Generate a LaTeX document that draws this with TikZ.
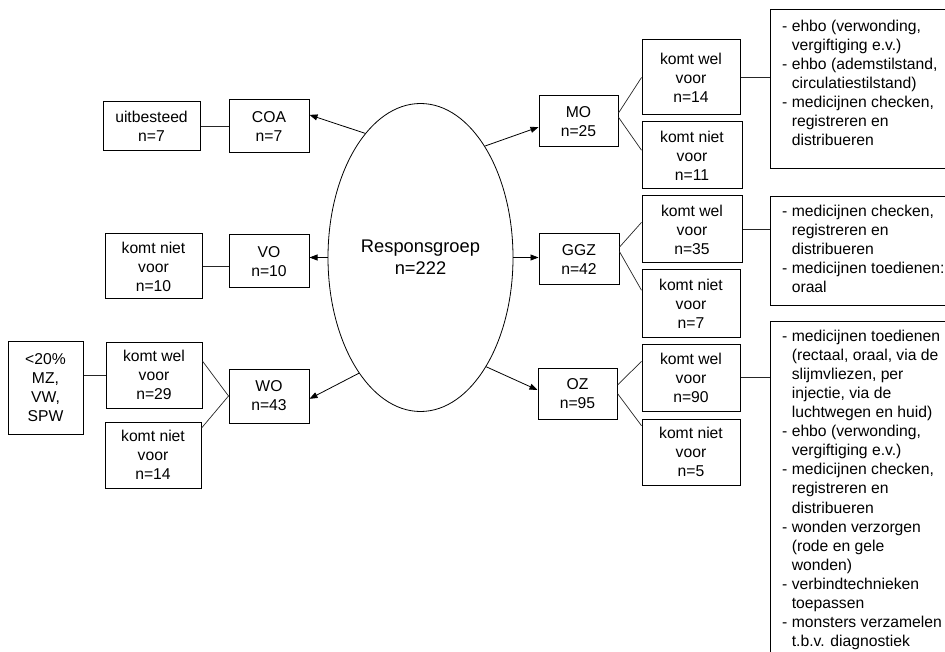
\documentclass[tikz,border=0pt]{standalone}
\usepackage{fontspec}
\setmainfont{Liberation Sans}
\usetikzlibrary{arrows.meta,shapes.geometric}
\begin{document}
\begin{tikzpicture}[x=1pt,y=-1pt,
  every node/.style={font=\fontsize{15.7}{19.1}\selectfont},
  bx/.style={draw,line width=1pt,inner sep=0pt,align=center},
  tbox/.style={draw,line width=1pt,inner sep=0pt,anchor=north west,minimum width=240pt},
  ttext/.style={anchor=north west,inner sep=0pt,align=left},
  ln/.style={line width=0.7pt,black!85},
  arr/.style={line width=0.8pt,-{Triangle[length=8pt,width=6pt]}},
  ]
\useasboundingbox (0,0) rectangle (945,652);
\clip (0,0) rectangle (945,652);
\newcommand{\ind}{\hspace*{9.6pt}}
% central ellipse
\node[ellipse,draw,line width=0.8pt,minimum width=185pt,minimum height=308pt,inner sep=0pt,align=center,font=\fontsize{18.3}{22}\selectfont] (ell) at (420.5,257.5) {Responsgroep\\n=222};
% left side
\node[bx,minimum width=97pt,minimum height=49pt] (unit) at (151.5,126.5) {uitbesteed\\n=7};
\node[bx,minimum width=80pt,minimum height=53pt] (COA) at (269,126.5) {COA\\n=7};
\node[bx,minimum width=80pt,minimum height=53pt] (VO) at (269,261.5) {VO\\n=10};
\node[bx,minimum width=97pt,minimum height=65pt] (niet10) at (153.5,266.5) {komt niet\\voor\\n=10};
\node[bx,minimum width=80pt,minimum height=54pt] (WO) at (269,396) {WO\\n=43};
\node[bx,minimum width=96pt,minimum height=66pt] (wel29) at (154,375) {komt wel\\voor\\n=29};
\node[bx,minimum width=96pt,minimum height=66pt] (niet14) at (153,455) {komt niet\\voor\\n=14};
\node[bx,minimum width=75pt,minimum height=93pt] (pct) at (45.5,387.5) {<20\%\\MZ,\\VW,\\SPW};
% right side
\node[bx,minimum width=79pt,minimum height=51pt] (MO) at (578.5,121.5) {MO\\n=25};
\node[bx,minimum width=98pt,minimum height=75pt] (wel14) at (691,77.5) {komt wel\\voor\\n=14};
\node[bx,minimum width=100pt,minimum height=67pt] (niet11) at (692,155.5) {komt niet\\voor\\n=11};
\node[bx,minimum width=80pt,minimum height=51pt] (GGZ) at (579,259.5) {GGZ\\n=42};
\node[bx,minimum width=100pt,minimum height=67pt] (wel35) at (692,229.5) {komt wel\\voor\\n=35};
\node[bx,minimum width=98pt,minimum height=67pt] (niet7) at (691,303.5) {komt niet\\voor\\n=7};
\node[bx,minimum width=79pt,minimum height=51pt] (OZ) at (577.5,393.5) {OZ\\n=95};
\node[bx,minimum width=98pt,minimum height=67pt] (wel90) at (691,377.5) {komt wel\\voor\\n=90};
\node[bx,minimum width=98pt,minimum height=66pt] (niet5) at (691,452) {komt niet\\voor\\n=5};
% text boxes
\node[tbox,minimum height=159pt] (b1) at (770,9) {};
\node[tbox,minimum height=109pt] (b2) at (770,196) {};
\node[tbox,minimum height=400pt] (b3) at (770,321) {};
\node[ttext] (t1) at (782,17.6) {\strut- ehbo (verwonding,\\\ind vergiftiging e.v.)\\- ehbo (ademstilstand,\\\ind circulatiestilstand)\\- medicijnen checken,\\\ind registreren en\\\ind distribueren};
\node[ttext] (t2) at (782,202.6) {\strut- medicijnen checken,\\\ind registreren en\\\ind distribueren\\- medicijnen toedienen:\\\ind oraal};
\node[ttext] (t3) at (782,327.6) {\strut- medicijnen toedienen\\\ind (rectaal, oraal, via de\\\ind slijmvliezen, per\\\ind injectie, via de\\\ind luchtwegen en huid)\\- ehbo (verwonding,\\\ind vergiftiging e.v.)\\- medicijnen checken,\\\ind registreren en\\\ind distribueren\\- wonden verzorgen\\\ind (rode en gele\\\ind wonden)\\- verbindtechnieken\\\ind toepassen\\- monsters verzamelen\\\ind t.b.v. diagnostiek};
% arrows from ellipse
\draw[arr] (ell.114) -- (COA.16);
\draw[arr] (ell.180) -- (VO.east |- ell.180);
\draw[arr] (ell.242) -- (WO.356);
\draw[arr] (ell.60) -- (MO.188);
\draw[arr] (ell.0) -- (GGZ.west |- ell.0);
\draw[arr] (ell.301) -- (OZ.175);
% plain connectors
\draw[ln] (unit.east) -- (COA.west);
\draw[ln] (niet10.east) -- (VO.west |- niet10.east);
\draw[ln] (pct.east |- wel29.west) -- (wel29.west);
\draw[ln] (WO.west) -- (wel29.16);
\draw[ln] (WO.west) -- (niet14.29);
\draw[ln] (MO.12) -- (wel14.west);
\draw[ln] (MO.6) -- (niet11.174);
\draw[ln] (GGZ.17) -- (wel35.172);
\draw[ln] (GGZ.11) -- (niet7.165);
\draw[ln] (OZ.12) -- (wel90.162);
\draw[ln] (OZ.0) -- (niet5.152);
\draw[ln] (wel14.east) -- (b1.west |- wel14.east);
\draw[ln] (wel35.east) -- (b2.west |- wel35.east);
\draw[ln] (wel90.east) -- (b3.west |- wel90.east);
\end{tikzpicture}
\end{document}
